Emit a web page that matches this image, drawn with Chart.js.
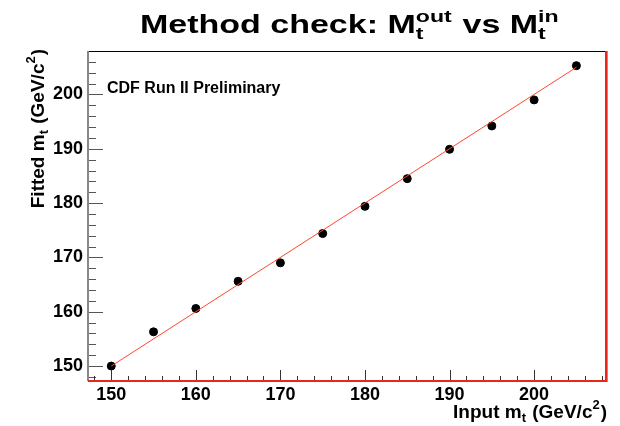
<!DOCTYPE html>
<html>
<head>
<meta charset="utf-8">
<script src="https://cdn.jsdelivr.net/npm/chart.js@4"></script>
<style>
  html, body { margin: 0; padding: 0; background: #fff; }
  #plot { display: block; }
</style>
</head>
<body>
<canvas id="plot" width="620" height="426"></canvas>
<script>
// generated top mass vs. reconstructed (fitted) top mass
const inputMass = [150, 155, 160, 165, 170, 175, 180, 185, 190, 195, 200, 205];
const fittedMass = [150.0, 156.3, 160.6, 165.6, 169.0, 174.4, 179.4, 184.5, 189.9, 194.2, 199.0, 205.3];

// straight-line fit through the points
const fitX = [150, 205];
const fitY = [150.0, 205.0];

const xTicks = [150, 160, 170, 180, 190, 200];
const yTicks = [150, 160, 170, 180, 190, 200];

const xRange = [147.25, 208.5];
const yRange = [147.25, 208];

const FONT = '"Liberation Sans", Arial, Helvetica, sans-serif';
const canvas = document.getElementById('plot');

// draws a run of text pieces; a piece may carry a subscript and/or superscript
function drawRich(ctx, parts, x, y, size, align) {
    const small = Math.round(size * 0.68);
    const widthOf = p => {
        ctx.font = 'bold ' + size + 'px ' + FONT;
        let w = p.t ? ctx.measureText(p.t).width : 0;
        ctx.font = 'bold ' + small + 'px ' + FONT;
        const ws = p.sub ? ctx.measureText(p.sub).width : 0;
        const wp = p.sup ? ctx.measureText(p.sup).width : 0;
        return w + Math.max(ws, wp) + (p.sub || p.sup ? 1 : 0);
    };
    let total = parts.reduce((s, p) => s + widthOf(p), 0);
    let cx = align === 'right' ? x - total : align === 'center' ? x - total / 2 : x;
    ctx.textBaseline = 'alphabetic';
    ctx.textAlign = 'left';
    parts.forEach(p => {
        ctx.font = 'bold ' + size + 'px ' + FONT;
        if (p.t) {
            ctx.fillText(p.t, cx, y);
            cx += ctx.measureText(p.t).width;
        }
        ctx.font = 'bold ' + small + 'px ' + FONT;
        let w = 0;
        if (p.sub) {
            ctx.fillText(p.sub, cx, y + size * 0.22);
            w = Math.max(w, ctx.measureText(p.sub).width);
        }
        if (p.sup) {
            ctx.fillText(p.sup, cx, y - size * 0.45);
            w = Math.max(w, ctx.measureText(p.sup).width);
        }
        if (p.sub || p.sup) cx += w + 1;
    });
}

const frameAndText = {
    id: 'frameAndText',
    beforeDraw(chart) {
        const ctx = chart.ctx;
        ctx.save();
        ctx.fillStyle = '#fff';
        ctx.fillRect(0, 0, chart.width, chart.height);
        ctx.restore();
    },
    afterDatasetsDraw(chart) {
        const ctx = chart.ctx;
        const a = chart.chartArea;
        const xs = chart.scales.x;
        const ys = chart.scales.y;
        ctx.save();

        // tick marks inside the frame, major every 10 and minor every 2
        ctx.lineWidth = 1;
        for (let v = Math.ceil(yRange[0] / 2) * 2; v <= yRange[1]; v += 2) {
            const py = Math.round(ys.getPixelForValue(v)) + 0.5;
            const len = v % 10 === 0 ? 15 : 8;
            ctx.strokeStyle = '#555';
            ctx.beginPath();
            ctx.moveTo(a.left, py);
            ctx.lineTo(a.left + len, py);
            ctx.stroke();
        }
        for (let v = Math.ceil(xRange[0] / 2) * 2; v <= xRange[1]; v += 2) {
            const px = Math.round(xs.getPixelForValue(v)) + 0.5;
            const len = v % 10 === 0 ? 11 : 5;
            ctx.strokeStyle = '#333';
            ctx.beginPath();
            ctx.moveTo(px, a.bottom);
            ctx.lineTo(px, a.bottom - len);
            ctx.stroke();
        }

        // frame: black top, grey left axis, red bottom and right edges
        ctx.strokeStyle = '#000';
        ctx.lineWidth = 1;
        ctx.beginPath();
        ctx.moveTo(a.left, a.top + 0.5);
        ctx.lineTo(a.right, a.top + 0.5);
        ctx.stroke();
        ctx.strokeStyle = '#888';
        ctx.lineWidth = 2;
        ctx.beginPath();
        ctx.moveTo(a.left, a.top);
        ctx.lineTo(a.left, a.bottom);
        ctx.stroke();
        ctx.strokeStyle = '#e8261a';
        ctx.beginPath();
        ctx.moveTo(a.left, a.bottom);
        ctx.lineTo(a.right + 1, a.bottom);
        ctx.moveTo(a.right, a.top);
        ctx.lineTo(a.right, a.bottom);
        ctx.stroke();
        ctx.strokeStyle = '#999';
        ctx.lineWidth = 1;
        ctx.beginPath();
        ctx.moveTo(a.right + 1.5, a.top);
        ctx.lineTo(a.right + 1.5, a.bottom + 1);
        ctx.stroke();

        ctx.fillStyle = '#000';

        // main title, drawn a little wide like the original heading font
        ctx.save();
        ctx.translate(350, 33);
        ctx.scale(1.36, 1);
        drawRich(ctx, [
            { t: 'Method check: M', sub: 't', sup: 'out' },
            { t: ' vs M', sub: 't', sup: 'in' }
        ], 0, 0, 25, 'center');
        ctx.restore();

        drawRich(ctx, [
            { t: 'Input m', sub: 't' },
            { t: ' (GeV/c', sup: '2' },
            { t: ')' }
        ], 607, 418, 19, 'right');

        ctx.save();
        ctx.translate(44, 49);
        ctx.rotate(-Math.PI / 2);
        drawRich(ctx, [
            { t: 'Fitted m', sub: 't' },
            { t: ' (GeV/c', sup: '2' },
            { t: ')' }
        ], 0, 0, 19, 'right');
        ctx.restore();

        ctx.font = 'bold 16px ' + FONT;
        ctx.textAlign = 'left';
        ctx.textBaseline = 'alphabetic';
        ctx.fillText('CDF Run II Preliminary', 107, 93);

        ctx.restore();
    }
};

new Chart(canvas, {
    type: 'scatter',
    data: {
        datasets: [{
            type: 'line',
            label: 'fit',
            data: fitX.map((x, i) => ({ x, y: fitY[i] })),
            borderColor: 'rgb(255, 70, 50)',
            borderWidth: 1,
            pointRadius: 0,
            fill: false
        }, {
            label: 'fitted',
            data: inputMass.map((x, i) => ({ x, y: fittedMass[i] })),
            backgroundColor: '#000',
            borderColor: '#000',
            pointRadius: 4,
            pointHoverRadius: 4
        }]
    },
    options: {
        responsive: false,
        animation: false,
        devicePixelRatio: 1,
        layout: { padding: { top: 51, right: 14, left: 0, bottom: 0 } },
        plugins: {
            legend: { display: false },
            tooltip: { enabled: false },
            title: { display: false }
        },
        scales: {
            x: {
                type: 'linear',
                min: xRange[0],
                max: xRange[1],
                grid: { display: false, drawTicks: false },
                border: { display: false },
                afterBuildTicks: s => { s.ticks = xTicks.map(v => ({ value: v })); },
                afterFit: s => { s.height = 45; },
                ticks: {
                    padding: 3,
                    color: '#000',
                    maxRotation: 0,
                    font: { family: FONT, size: 18, weight: 'bold' }
                }
            },
            y: {
                type: 'linear',
                min: yRange[0],
                max: yRange[1],
                grid: { display: false, drawTicks: false },
                border: { display: false },
                afterBuildTicks: s => { s.ticks = yTicks.map(v => ({ value: v })); },
                afterFit: s => { s.width = 88; },
                ticks: {
                    padding: 5,
                    color: '#000',
                    font: { family: FONT, size: 18, weight: 'bold' }
                }
            }
        }
    },
    plugins: [frameAndText]
});
</script>
</body>
</html>
